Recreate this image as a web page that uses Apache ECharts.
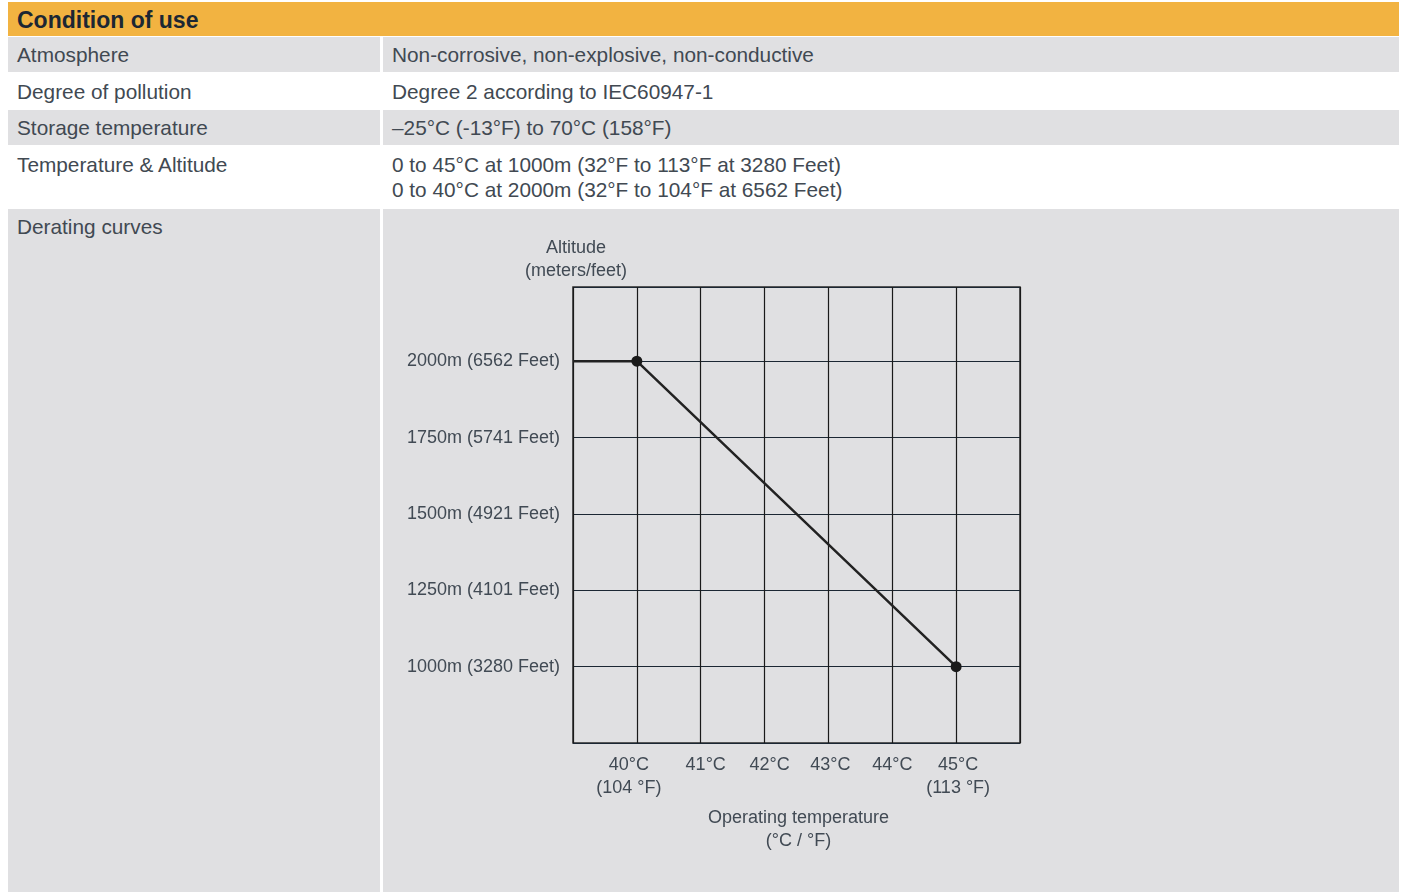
<!DOCTYPE html>
<html>
<head>
<meta charset="utf-8">
<script src="https://cdn.jsdelivr.net/npm/echarts@6/dist/echarts.min.js"></script>
<style>
  html, body { margin:0; padding:0; background:#ffffff; width:1403px; height:892px; overflow:hidden; }
  body { position:relative; font-family:"Liberation Sans", Arial, sans-serif; color:#414952; }
  .bg { position:absolute; }
  .t { position:absolute; font-size:20.8px; line-height:25px; white-space:nowrap; }
  #chart { position:absolute; left:0; top:0; width:1403px; height:892px; }
</style>
</head>
<body>
<!-- table backgrounds -->
<div class="bg" style="left:8px;top:2px;width:1391px;height:34px;background:#F2B341;"></div>
<div class="bg" style="left:8px;top:37px;width:372px;height:35px;background:#E0E0E2;"></div>
<div class="bg" style="left:383px;top:37px;width:1016px;height:35px;background:#E0E0E2;"></div>
<div class="bg" style="left:8px;top:110px;width:372px;height:35px;background:#E0E0E2;"></div>
<div class="bg" style="left:383px;top:110px;width:1016px;height:35px;background:#E0E0E2;"></div>
<div class="bg" style="left:8px;top:209px;width:372px;height:683px;background:#E0E0E2;"></div>
<div class="bg" style="left:383px;top:209px;width:1016px;height:683px;background:#E0E0E2;"></div>

<div class="t" style="left:17px;top:8px;font-size:23px;font-weight:bold;color:#1c2733;">Condition of use</div>

<div class="t" style="left:17px;top:42px;">Atmosphere</div>
<div class="t" style="left:392px;top:42px;">Non-corrosive, non-explosive, non-conductive</div>

<div class="t" style="left:17px;top:79px;">Degree of pollution</div>
<div class="t" style="left:392px;top:79px;">Degree 2 according to IEC60947-1</div>

<div class="t" style="left:17px;top:115px;">Storage temperature</div>
<div class="t" style="left:392px;top:115px;">–25°C (-13°F) to 70°C (158°F)</div>

<div class="t" style="left:17px;top:152px;">Temperature &amp; Altitude</div>
<div class="t" style="left:392px;top:152px;">0 to 45°C at 1000m (32°F to 113°F at 3280 Feet)<br>0 to 40°C at 2000m (32°F to 104°F at 6562 Feet)</div>

<div class="t" style="left:17px;top:214px;">Derating curves</div>

<div id="chart"></div>
<script>
  // Data
  var temperatureC = [39, 40, 45];
  var altitudeM = [2000, 2000, 1000];
  var xTickLabels = {
    40: ['40°C', '(104 °F)'],
    41: ['41°C'],
    42: ['42°C'],
    43: ['43°C'],
    44: ['44°C'],
    45: ['45°C', '(113 °F)']
  };
  var yTickLabels = {
    1000: '1000m (3280 Feet)',
    1250: '1250m (4101 Feet)',
    1500: '1500m (4921 Feet)',
    1750: '1750m (5741 Feet)',
    2000: '2000m (6562 Feet)'
  };

  var seriesData = temperatureC.map(function (t, i) {
    return {
      value: [t, altitudeM[i]],
      symbol: i === 0 ? 'none' : 'circle'
    };
  });

  var labelColor = '#414a54';
  var baseText = { color: labelColor, fontSize: 18, lineHeight: 23, fontFamily: 'Liberation Sans' };
  function richStyle(padL, padR) {
    return Object.assign({}, baseText, { padding: [0, padR, 0, padL] });
  }
  var chart = echarts.init(document.getElementById('chart'), null, { renderer: 'canvas' });
  chart.setOption({
    backgroundColor: 'transparent',
    animation: false,
    grid: {
      left: 573, top: 287, width: 447, height: 456,
      show: true, borderColor: '#2a2a2a', borderWidth: 1.5, backgroundColor: 'transparent'
    },
    xAxis: {
      type: 'value',
      min: 39, max: 46, interval: 1,
      name: 'Operating temperature\n(°C / °F)',
      nameLocation: 'middle',
      nameGap: 64,
      nameTextStyle: Object.assign({}, baseText, { padding: [0, 0, 0, 4] }),
      axisLine: { show: false },
      axisTick: { show: false },
      axisLabel: {
        margin: 11,
        color: labelColor, fontSize: 18, lineHeight: 23, fontFamily: 'Liberation Sans',
        formatter: function (v) {
          var lines = xTickLabels[v];
          if (!lines) return '';
          var key = 's' + v;
          return lines.map(function (l) { return '{' + key + '|' + l + '}'; }).join('\n');
        },
        rich: {
          s40: richStyle(0, 16),
          s41: richStyle(10, 0),
          s42: richStyle(10, 0),
          s43: richStyle(4, 0),
          s44: richStyle(0, 0),
          s45: richStyle(4, 0)
        }
      },
      splitLine: { show: true, lineStyle: { color: '#1a1a1a', width: 1.2 } }
    },
    yAxis: {
      type: 'value',
      min: 750, max: 2243, interval: 250,
      name: 'Altitude\n(meters/feet)',
      nameLocation: 'end',
      nameGap: 4,
      nameTextStyle: Object.assign({}, baseText, { align: 'center', verticalAlign: 'bottom', padding: [0, 0, 0, 6] }),
      axisLine: { show: false },
      axisTick: { show: false },
      axisLabel: {
        margin: 13,
        color: labelColor, fontSize: 18, fontFamily: 'Liberation Sans',
        formatter: function (v) { return yTickLabels[v] || ''; }
      },
      splitLine: { show: true, lineStyle: { color: '#1b2733', width: 1.2 } }
    },
    series: [{
      type: 'line',
      data: seriesData,
      symbolSize: 11,
      lineStyle: { color: '#222222', width: 2.5 },
      itemStyle: { color: '#1a1a1a' },
      silent: true
    }]
  });
</script>
</body>
</html>
